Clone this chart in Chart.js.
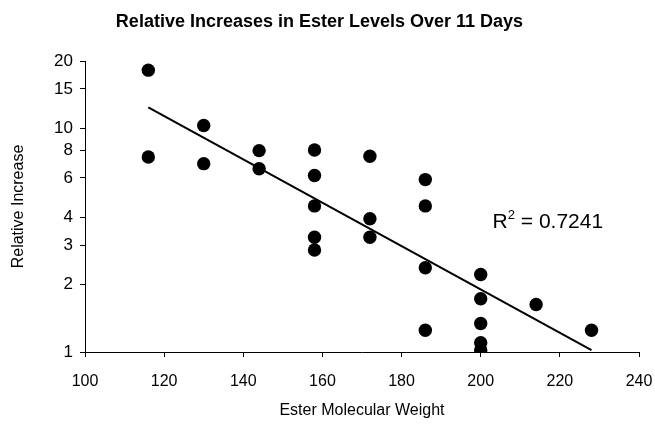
<!DOCTYPE html>
<html>
<head>
<meta charset="utf-8">
<script src="https://cdn.jsdelivr.net/npm/chart.js@4.4.1/dist/chart.umd.min.js"></script>
<style>
  html, body { margin: 0; padding: 0; background: #fff; }
  canvas { display: block; }
</style>
</head>
<body>
<canvas id="chart" width="655" height="428"></canvas>
<script>
// Ester molecular weight vs relative increase (log scale)
const weights = [116, 116, 130, 130, 144, 144, 158, 158, 158, 158, 158,
  172, 172, 172, 186, 186, 186, 186, 200, 200, 200, 200, 200, 214, 228];
const increases = [18.2, 7.45, 10.3, 6.95, 7.95, 6.6, 8.0, 6.15, 4.5, 3.26, 2.86,
  7.5, 3.94, 3.26, 5.9, 4.5, 2.38, 1.25, 2.22, 1.73, 1.34, 1.1, 1.02, 1.63, 1.25];

// exponential trendline, read at its two ends
const trendX = [116, 228];
const trendY = [12.4, 1.02];
const rSquared = '0.7241';

const yTicks = [1, 2, 3, 4, 6, 8, 10, 15, 20];

const FONT = "'Liberation Sans', Arial, sans-serif";

const rLabel = {
  id: 'rLabel',
  afterDatasetsDraw(chart) {
    const { ctx, scales } = chart;
    const x = scales.x.getPixelForValue(203);
    const y = scales.y.getPixelForValue(3.57);
    ctx.save();
    ctx.fillStyle = '#000';
    ctx.textBaseline = 'alphabetic';
    ctx.font = '21px ' + FONT;
    ctx.fillText('R', x, y);
    let w = ctx.measureText('R').width;
    ctx.font = '13px ' + FONT;
    ctx.fillText('2', x + w, y - 9);
    w += ctx.measureText('2').width;
    ctx.font = '21px ' + FONT;
    ctx.fillText(' = ' + rSquared, x + w, y);
    ctx.restore();
  }
};

new Chart(document.getElementById('chart'), {
  type: 'scatter',
  data: {
    datasets: [
      {
        label: 'Esters',
        data: weights.map((w, i) => ({ x: w, y: increases[i] })),
        backgroundColor: '#000',
        borderWidth: 0,
        pointRadius: 6.7,
        order: 2
      },
      {
        label: 'Trend',
        type: 'line',
        data: trendX.map((w, i) => ({ x: w, y: trendY[i] })),
        borderColor: '#000',
        borderWidth: 2,
        pointRadius: 0,
        fill: false,
        order: 1
      }
    ]
  },
  options: {
    responsive: false,
    animation: false,
    devicePixelRatio: 1,
    layout: { padding: { right: 16, left: 0, top: 0, bottom: 0 } },
    plugins: {
      legend: { display: false },
      tooltip: { enabled: false },
      title: {
        display: true,
        text: 'Relative Increases in Ester Levels Over 11 Days',
        color: '#000',
        font: { family: FONT, size: 18, weight: 'bold' },
        padding: { top: 11, bottom: 28.4 }
      }
    },
    scales: {
      x: {
        type: 'linear',
        min: 100,
        max: 240,
        ticks: { stepSize: 20, color: '#000', font: { family: FONT, size: 16 }, padding: 15, maxRotation: 0 },
        grid: { display: true, drawOnChartArea: false, drawTicks: true, tickLength: 5, color: '#000' },
        border: { display: true, color: '#000', width: 1 },
        title: {
          display: true,
          text: 'Ester Molecular Weight',
          color: '#000',
          font: { family: FONT, size: 16 },
          padding: { top: 0, bottom: 8 }
        },
        afterFit: (s) => { s.height = 76; s.paddingLeft = 0; s.paddingRight = 0; }
      },
      y: {
        type: 'logarithmic',
        min: 1,
        max: 20,
        afterBuildTicks: (s) => { s.ticks = yTicks.map(v => ({ value: v })); },
        ticks: { color: '#000', font: { family: FONT, size: 17 }, padding: 7, callback: (v) => String(v) },
        grid: { display: true, drawOnChartArea: false, drawTicks: true, tickLength: 5, color: '#000' },
        border: { display: true, color: '#000', width: 1 },
        title: {
          display: true,
          text: 'Relative Increase',
          color: '#000',
          font: { family: FONT, size: 16 },
          padding: { top: 9, bottom: 0 }
        },
        afterFit: (s) => { s.width = 85; }
      }
    }
  },
  plugins: [rLabel]
});
</script>
</body>
</html>
